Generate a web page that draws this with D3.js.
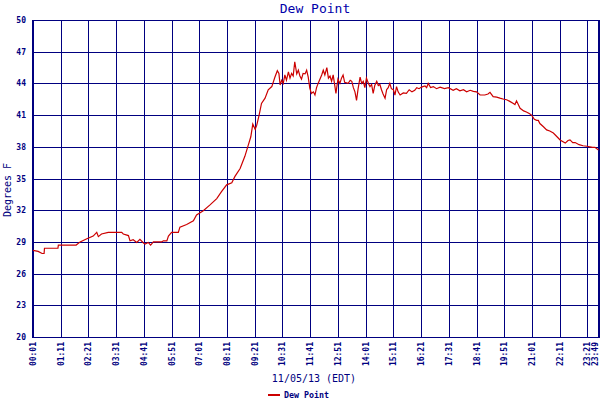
<!DOCTYPE html>
<html><head><meta charset="utf-8">
<script src="https://cdn.jsdelivr.net/npm/d3@7"></script>
<style>body{margin:0;background:#fff}svg{display:block}</style>
</head><body>
<script>
const times = ["00:01","00:14","00:24","00:29","00:30","01:04","01:05","01:50","02:00","02:17","02:33","02:42","02:46","02:54","03:11","03:45","03:49","04:02","04:06","04:14","04:23","04:31","04:40","04:44","04:52","04:58","05:05","05:26","05:30","05:39","05:43","05:51","06:08","06:12","06:29","06:46","06:54","07:11","07:28","07:45","07:57","08:10","08:23","08:31","08:44","08:56","09:05","09:11","09:16","09:22","09:26","09:32","09:38","09:47","09:55","10:04","10:12","10:18","10:22","10:25","10:29","10:33","10:37","10:41","10:46","10:50","10:54","10:58","11:02","11:07","11:11","11:15","11:19","11:23","11:28","11:32","11:36","11:40","11:44","11:49","11:53","11:57","12:01","12:10","12:14","12:18","12:23","12:27","12:31","12:35","12:39","12:46","12:51","12:56","13:00","13:04","13:08","13:17","13:22","13:26","13:30","13:34","13:38","13:42","13:47","13:51","13:55","13:59","14:03","14:08","14:12","14:16","14:20","14:24","14:29","14:33","14:37","14:41","14:45","14:50","14:54","14:58","15:02","15:06","15:11","15:15","15:19","15:23","15:28","15:36","15:44","15:51","15:58","16:05","16:10","16:16","16:22","16:31","16:35","16:39","16:45","16:52","17:00","17:09","17:20","17:30","17:42","17:50","17:59","18:08","18:16","18:25","18:33","18:41","18:50","19:02","19:10","19:15","19:23","19:32","19:40","19:50","19:57","20:05","20:14","20:18","20:22","20:31","20:40","20:47","20:54","21:00","21:07","21:13","21:17","21:21","21:30","21:38","21:46","21:55","22:03","22:12","22:25","22:32","22:37","22:44","22:50","23:00","23:10","23:20","23:27","23:34","23:40","23:49"];
const dewPoint = [28.2,28.1,27.9,27.9,28.4,28.4,28.7,28.7,29.0,29.3,29.55,29.9,29.5,29.75,29.9,29.9,29.75,29.6,29.1,29.2,28.95,29.25,28.9,28.8,28.95,28.7,29.0,29.0,29.1,29.1,29.55,29.9,29.9,30.4,30.65,31.0,31.55,31.95,32.5,33.1,33.75,34.4,34.6,35.2,35.95,37.1,38.2,38.95,40.15,39.65,40.05,41.0,42.1,42.6,43.4,43.7,44.6,45.2,44.95,43.85,44.3,44.0,44.8,44.3,45.1,44.5,44.95,44.7,46.05,44.9,45.25,44.7,44.4,44.95,44.9,45.25,44.6,43.55,43.05,43.2,42.9,43.6,44.0,44.8,45.25,44.8,45.5,44.5,44.7,44.2,44.8,43.05,44.4,44.0,44.5,44.8,44.1,44.0,44.3,44.2,43.6,43.2,42.4,43.5,44.6,44.0,44.2,43.6,44.5,44.0,43.7,43.9,43.05,43.8,44.2,43.8,43.9,43.4,43.0,42.6,43.4,43.6,44.0,43.5,43.4,42.9,43.7,43.2,42.9,43.1,43.05,43.4,43.2,43.35,43.6,43.5,43.65,43.75,43.6,44.0,43.6,43.7,43.5,43.65,43.5,43.6,43.35,43.5,43.3,43.4,43.2,43.35,43.25,43.2,42.9,42.9,43.0,43.15,42.75,42.7,42.6,42.5,42.45,42.3,42.1,42.0,42.35,41.65,41.4,41.3,41.15,41.0,40.6,40.5,40.5,40.2,39.9,39.6,39.5,39.3,39.0,38.65,38.35,38.6,38.65,38.4,38.4,38.2,38.1,38.05,38.0,37.95,37.95,37.7];
const xTickLabels = ["00:01","01:11","02:21","03:31","04:41","05:51","07:01","08:11","09:21","10:31","11:41","12:51","14:01","15:11","16:21","17:31","18:41","19:51","21:01","22:11","23:21","23:49"];
const yTicks = [20,23,26,29,32,35,38,41,44,47,50];

const W = 600, H = 400;
const L = 33, R = 598.5, T = 20, B = 337;
const toMin = s => { const [h,m] = s.split(":").map(Number); return h*60+m; };
const navy = "#000080";
const mono = "'DejaVu Sans Mono', monospace";

const svg = d3.select("body").append("svg").attr("width", W).attr("height", H);
const x = d3.scaleLinear().domain([toMin("00:01"), toMin("23:49")]).range([L, R]);
const y = d3.scaleLinear().domain([20, 50]).range([B, T]);

// grid
const g = svg.append("g").attr("shape-rendering", "crispEdges");
g.selectAll("line.h").data(yTicks).join("line")
  .attr("x1", L).attr("x2", R).attr("y1", d => Math.round(y(d)) + 0.5).attr("y2", d => Math.round(y(d)) + 0.5)
  .attr("stroke", navy).attr("stroke-width", 1);
g.selectAll("line.v").data(xTickLabels).join("line")
  .attr("x1", d => Math.round(x(toMin(d))) + 0.5).attr("x2", d => Math.round(x(toMin(d))) + 0.5)
  .attr("y1", T).attr("y2", B)
  .attr("stroke", navy).attr("stroke-width", 1);
// heavy left / right edges
g.append("line").attr("x1", L - 0.5).attr("x2", L - 0.5).attr("y1", T).attr("y2", B + 0.5).attr("stroke", navy).attr("stroke-width", 2);
g.append("line").attr("x1", R).attr("x2", R).attr("y1", T).attr("y2", B + 0.5).attr("stroke", navy).attr("stroke-width", 2);

// y tick labels
svg.append("g").selectAll("text").data(yTicks).join("text")
  .attr("x", 26).attr("y", d => y(d) + 3)
  .attr("text-anchor", "end").attr("font-family", mono).attr("font-weight", "bold")
  .attr("font-size", 8).attr("fill", navy).text(d => d);

// x tick labels (vertical); keep the last one inside the frame
svg.append("g").selectAll("text").data(xTickLabels).join("text")
  .attr("transform", (d, i) => `translate(${Math.min(x(toMin(d)) + 3, 597.5)},342) rotate(-90)`)
  .attr("text-anchor", "end").attr("font-family", mono).attr("font-weight", "bold")
  .attr("font-size", 8).attr("fill", navy).text(d => d);

// line
const data = times.map((t, i) => ({ t: toMin(t), v: dewPoint[i] }));
svg.append("path").datum(data)
  .attr("d", d3.line().x(d => x(d.t)).y(d => y(d.v)))
  .attr("fill", "none").attr("stroke", "#cc0000").attr("stroke-width", 1.2);

// title & labels
svg.append("text").attr("x", 315).attr("y", 12.5).attr("text-anchor", "middle")
  .attr("font-family", mono).attr("font-size", 13).attr("fill", "#0000aa").text("Dew Point");
svg.append("text").attr("x", 314).attr("y", 382).attr("text-anchor", "middle")
  .attr("font-family", mono).attr("font-size", 10).attr("fill", navy).text("11/05/13 (EDT)");
svg.append("text").attr("transform", "translate(10.5,190) rotate(-90)").attr("text-anchor", "middle")
  .attr("font-family", mono).attr("font-size", 10).attr("fill", navy).text("Degrees F");

// legend
svg.append("line").attr("x1", 268).attr("x2", 280).attr("y1", 395).attr("y2", 395)
  .attr("stroke", "#cc0000").attr("stroke-width", 2);
svg.append("text").attr("x", 284).attr("y", 398).attr("font-family", mono).attr("font-weight", "bold")
  .attr("font-size", 8.3).attr("fill", navy).text("Dew Point");
</script>
</body></html>
